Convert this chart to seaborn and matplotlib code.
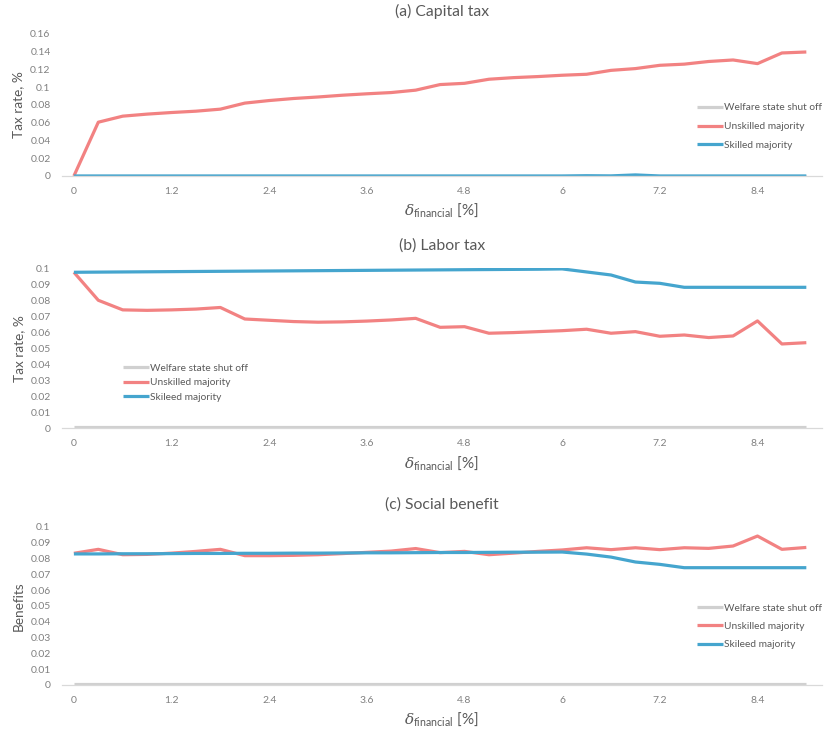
import matplotlib
matplotlib.use("Agg")
import matplotlib.pyplot as plt
from matplotlib.ticker import FuncFormatter, FixedLocator
import seaborn as sns
import pandas as pd

delta = [0, 0.3, 0.6, 0.9, 1.2, 1.5, 1.8, 2.1, 2.4, 2.7, 3.0, 3.3, 3.6, 3.9, 4.2,
         4.5, 4.8, 5.1, 5.4, 5.7, 6.0, 6.3, 6.6, 6.9, 7.2, 7.5, 7.8, 8.1, 8.4, 8.7, 9.0]
x_ticks = [0, 1.2, 2.4, 3.6, 4.8, 6, 7.2, 8.4]
x_tick_labels = ["0", "1.2", "2.4", "3.6", "4.8", "6", "7.2", "8.4"]

cap_welfare = [0.0] * 31
cap_unskilled = [0, 0.0606, 0.0674, 0.0697, 0.0715, 0.073, 0.0753, 0.0821, 0.085, 0.0873,
                 0.089, 0.091, 0.0926, 0.094, 0.0967, 0.103, 0.1044, 0.109, 0.1108, 0.112,
                 0.1135, 0.1146, 0.119, 0.121, 0.1247, 0.126, 0.129, 0.1307, 0.1266, 0.1386, 0.1397]
cap_skilled = [0, 0, 0, 0, 0, 0, 0, 0, 0, 0, 0, 0, 0, 0, 0, 0, 0, 0, 0, 0,
               0, 0.0003, 0.0001, 0.0012, 0, 0, 0, 0, 0, 0, 0]

lab_welfare = [0.001] * 31
lab_unskilled = [0.0975, 0.080, 0.074, 0.0737, 0.074, 0.0745, 0.0755, 0.0683, 0.0675, 0.0667,
                 0.0663, 0.0665, 0.067, 0.0677, 0.0687, 0.0631, 0.0635, 0.0594, 0.0598, 0.0604,
                 0.061, 0.0619, 0.0594, 0.0604, 0.0575, 0.0583, 0.0567, 0.0577, 0.0671, 0.0527, 0.0535]
lab_skilled = [0.0975, 0.0976, 0.0977, 0.0978, 0.0979, 0.0980, 0.0981, 0.0982, 0.0983, 0.0984,
               0.0985, 0.0986, 0.0987, 0.0988, 0.0989, 0.0990, 0.0991, 0.0992, 0.0993, 0.0994,
               0.0996, 0.0977, 0.0958, 0.0914, 0.0906, 0.0881, 0.0881, 0.0881, 0.0881, 0.0881, 0.0881]

soc_welfare = [0.0008] * 31
soc_unskilled = [0.0832, 0.0857, 0.0823, 0.0825, 0.0833, 0.0844, 0.0857, 0.0817, 0.0817, 0.0819,
                 0.0823, 0.083, 0.0838, 0.0846, 0.0862, 0.0836, 0.0844, 0.0823, 0.0833, 0.0844,
                 0.0853, 0.0867, 0.0855, 0.0867, 0.0855, 0.0867, 0.0863, 0.0878, 0.0941, 0.0857, 0.0869]
soc_skilled = [0.0828, 0.0828, 0.0829, 0.0829, 0.0830, 0.0831, 0.0831, 0.0832, 0.0832, 0.0833,
               0.0833, 0.0834, 0.0835, 0.0835, 0.0836, 0.0837, 0.0837, 0.0838, 0.0839, 0.0839,
               0.0840, 0.0827, 0.0808, 0.0777, 0.0762, 0.0741, 0.0741, 0.0741, 0.0741, 0.0741, 0.0741]

sns.set_style("white")
plt.rcParams["font.family"] = ["Lato", "DejaVu Sans"]
plt.rcParams["mathtext.fontset"] = "custom"
plt.rcParams["mathtext.rm"] = "Lato"
plt.rcParams["mathtext.it"] = "DejaVu Serif:italic"

C_GRAY = "#D0D0D0"
C_RED = "#F28282"
C_BLUE = "#45A5CE"
TXT = "#595959"
TICK = "#808080"

fig = plt.figure(figsize=(8.28, 7.29), dpi=100)

panels = [
    dict(title="(a) Capital tax", ylabel="Tax rate, %", ylim=0.16,
         yticks=[0, 0.02, 0.04, 0.06, 0.08, 0.1, 0.12, 0.14, 0.16],
         series=[("Welfare state shut off", cap_welfare), ("Unskilled majority", cap_unskilled),
                 ("Skilled majority", cap_skilled)],
         rect=[0.0745, 0.7586, 0.918, 0.1948],
         legend=dict(loc="upper left", bbox_to_anchor=(0.83, 0.54), labelspacing=0.95)),
    dict(title="(b) Labor tax", ylabel="Tax rate, %", ylim=0.1,
         yticks=[0, 0.01, 0.02, 0.03, 0.04, 0.05, 0.06, 0.07, 0.08, 0.09, 0.1],
         series=[("Welfare state shut off", lab_welfare), ("Unskilled majority", lab_unskilled),
                 ("Skileed majority", lab_skilled)],
         rect=[0.0745, 0.4125, 0.918, 0.2195],
         legend=dict(loc="upper left", bbox_to_anchor=(0.075, 0.43), labelspacing=0.55)),
    dict(title="(c) Social benefit", ylabel="Benefits", ylim=0.1,
         yticks=[0, 0.01, 0.02, 0.03, 0.04, 0.05, 0.06, 0.07, 0.08, 0.09, 0.1],
         series=[("Welfare state shut off", soc_welfare), ("Unskilled majority", soc_unskilled),
                 ("Skileed majority", soc_skilled)],
         rect=[0.0745, 0.0604, 0.918, 0.2171],
         legend=dict(loc="upper left", bbox_to_anchor=(0.83, 0.54), labelspacing=0.9)),
]

fmt = FuncFormatter(lambda v, p: "0" if abs(v) < 1e-12 else ("%g" % round(v, 4)))

for p in panels:
    ax = fig.add_axes(p["rect"])
    rows = []
    for name, vals in p["series"]:
        for d, v in zip(delta, vals):
            rows.append({"delta": d, "value": v, "series": name})
    df = pd.DataFrame(rows)
    names = [s[0] for s in p["series"]]
    palette = dict(zip(names, [C_GRAY, C_RED, C_BLUE]))
    sns.lineplot(data=df, x="delta", y="value", hue="series", hue_order=names,
                 palette=palette, linewidth=2.3, ax=ax, legend=True,
                 solid_capstyle="butt")
    ax.set_xlim(-0.15, 9.19)
    ax.set_ylim(0, p["ylim"])
    ax.xaxis.set_major_locator(FixedLocator(x_ticks))
    ax.set_xticklabels(x_tick_labels)
    ax.yaxis.set_major_locator(FixedLocator(p["yticks"]))
    ax.yaxis.set_major_formatter(fmt)
    ax.tick_params(axis="both", length=0, labelsize=7.5, colors=TICK, pad=8)
    ax.tick_params(axis="y", pad=8)
    for s in ["top", "right", "left"]:
        ax.spines[s].set_visible(False)
    ax.spines["bottom"].set_color("#D9D9D9")
    ax.spines["bottom"].set_linewidth(0.9)
    ax.set_xlabel(r"$\mathit{\delta}_{\mathrm{financial}}$ [%]", fontsize=11, color=TXT, labelpad=4)
    ax.set_ylabel(p["ylabel"], fontsize=9.8, color=TXT, labelpad=4)
    ax.set_title(p["title"], fontsize=11.3, color=TXT, pad=13)
    ax.patch.set_alpha(0)
    leg = ax.legend(frameon=False, fontsize=7.3, handlelength=2.6, handletextpad=0.1,
                    borderaxespad=0, **p["legend"])
    for t in leg.get_texts():
        t.set_color(TXT)
    for h in leg.get_lines():
        h.set_linewidth(2.3)

fig.savefig("out.png", dpi=100)
